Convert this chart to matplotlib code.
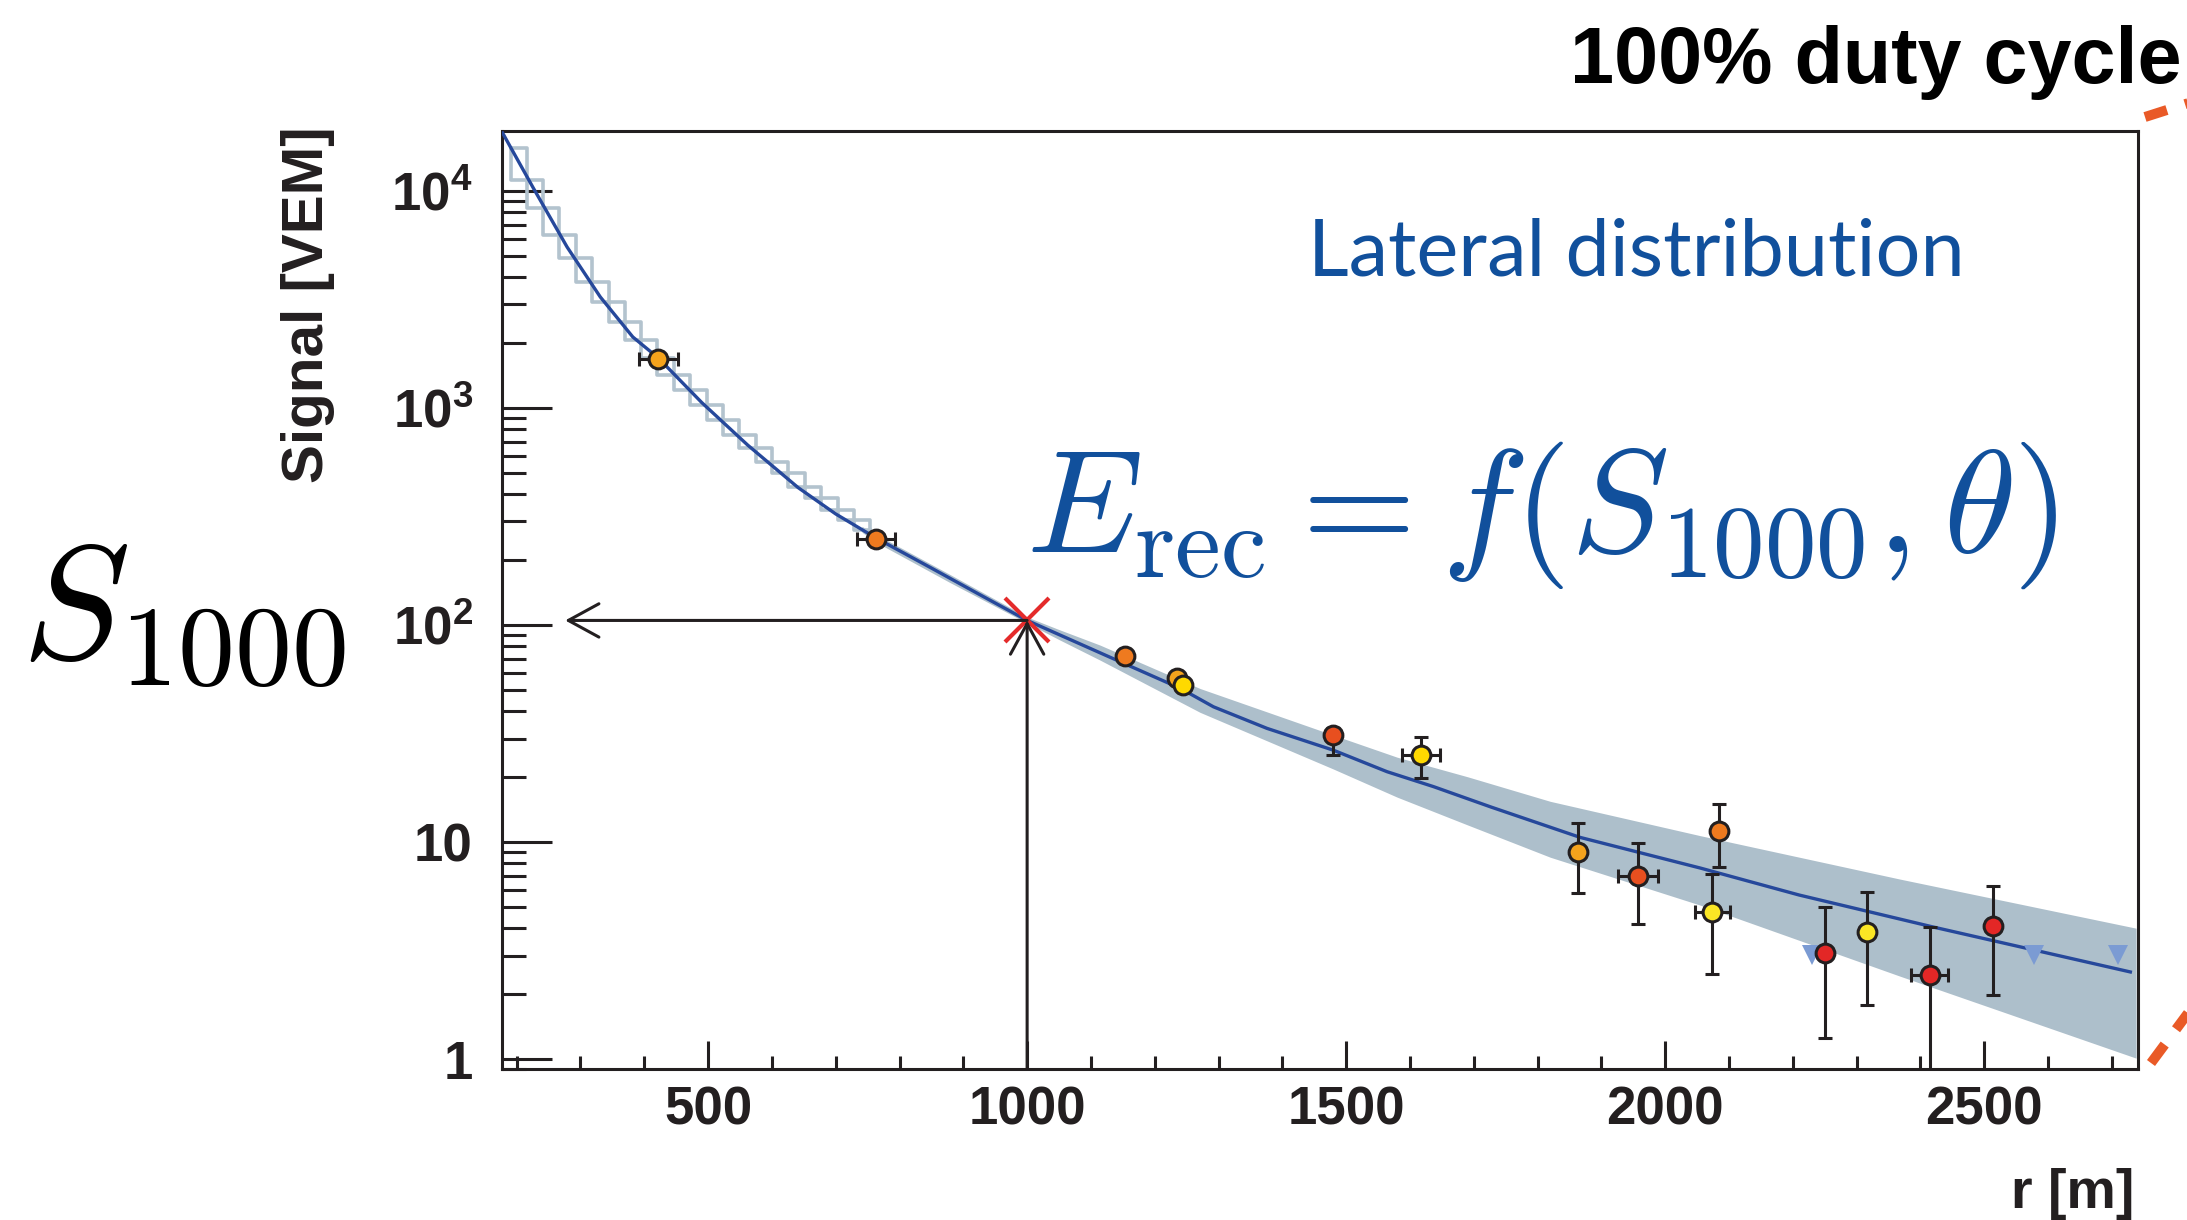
#! /usr/bin/env python3

import numpy as np
import matplotlib
matplotlib.use("Agg")
import matplotlib.pyplot as plt
from matplotlib.lines import Line2D
from matplotlib.ticker import LogLocator, MultipleLocator, NullFormatter

plt.rcParams['font.family'] = ['Liberation Sans', 'DejaVu Sans']
plt.rcParams['font.weight'] = 'bold'
plt.rcParams['mathtext.fontset'] = 'custom'
plt.rcParams['mathtext.rm'] = 'Liberation Sans:bold'
plt.rcParams['mathtext.it'] = 'Liberation Sans:bold'
plt.rcParams['mathtext.bf'] = 'Liberation Sans:bold'

W, H = 2187, 1220

INK = '#231f20'
TEXT_BLUE = '#11509c'
FIT_BLUE = '#26489b'
BAND_COLOR = '#adbfcb'
STEP_COLOR = '#b3c3ce'
TRIANGLE_COLOR = '#7b9bd3'
CROSS_RED = '#e42b2b'
DASH_ORANGE = '#e95a27'
STATION_COLORS = {
	'gold': '#f5a31c',
	'orange': '#ee7a1f',
	'vermilion': '#e84f1f',
	'red': '#e32726',
	'yellow': '#ffd900',
	'lemon': '#fbe625',
}

# fitted lateral distribution function
fit_r = [178, 226, 279, 331, 382, 422, 490, 562, 641, 700, 763, 850, 922, 1000,
	1154, 1240, 1292, 1376, 1480, 1564, 1637, 1727, 1867, 2055, 2210, 2420, 2599, 2729]
fit_s = [18500, 10330, 5520, 3250, 2125, 1700, 1060, 675, 430, 325, 252, 183, 140, 105,
	66.1, 51.1, 42.0, 33.4, 26.5, 21.1, 18.0, 14.5, 10.5, 7.59, 5.70, 4.06, 3.08, 2.52]

# uncertainty band of the fit
band_r = [741, 763, 879, 1000, 1050, 1114, 1271, 1480, 1580, 1690, 1820, 2055, 2368, 2738]
band_hi = [285, 262, 171, 108.9, 95.3, 80.9, 51.0, 31.1, 24.6, 20.0, 15.4, 10.7, 6.75, 4.01]
band_lo = [268, 241, 157, 102.1, 85.7, 69.0, 39.6, 21.7, 16.1, 12.0, 8.51, 5.12, 2.41, 1.01]

# binned band near the core (drawn as a staircase)
step_r = [191, 216, 241, 267, 293, 318, 344, 369, 395, 420, 446, 472, 498, 524, 549,
	575, 600, 626, 652, 677, 703, 728, 754]
step_s = [15740, 11240, 8320, 6270, 4900, 3820, 3090, 2500, 2060, 1694, 1420, 1210, 1032,
	880, 751, 652, 566, 500, 434, 384, 339, 305, 274]

# triggered stations
station_r = [422, 763, 1154, 1235, 1245, 1479, 1617, 1864, 1957, 2085, 2074, 2251, 2316, 2415, 2513]
station_s = [1683, 249, 72.0, 56.8, 52.9, 31.1, 25.2, 8.97, 6.97, 11.3, 4.77, 3.09, 3.86, 2.44, 4.11]
station_err_lo = [0, 0, 0, 0, 0, 5.9, 5.5, 3.17, 2.78, 3.61, 2.31, 1.84, 2.09, 2.0, 2.14]
station_err_hi = [0, 0, 0, 0, 0, 2.5, 5.2, 3.23, 2.89, 3.66, 2.35, 1.91, 2.04, 1.63, 2.16]
station_r_err = [31, 30, 0, 0, 0, 0, 30, 0, 31, 0, 28, 0, 0, 29, 0]
station_kind = ['gold', 'orange', 'orange', 'gold', 'yellow', 'vermilion', 'yellow', 'gold',
	'vermilion', 'orange', 'lemon', 'red', 'lemon', 'red', 'red']

# non-triggered stations
silent_r = [2230, 2578, 2710]
silent_s = [3.02, 3.02, 3.02]

S1000 = 105
R_OPT = 1000
arrow_left_r = 276

x_min, x_max = 177, 2741
y_min, y_max = 0.9, 18900


def fx(px):
	return px / W


def fy(py):
	return 1 - py / H


fig = plt.figure(figsize=(W / 100, H / 100), dpi=100)
ax = fig.add_axes([fx(502), fy(1069), fx(2138) - fx(502), fy(131) - fy(1069)])
ax.set_yscale('log')
ax.set_xlim(x_min, x_max)
ax.set_ylim(y_min, y_max)

ax.fill_between(band_r, band_lo, band_hi, color=BAND_COLOR, lw=0, zorder=1)
ax.step(step_r, step_s, where='post', color=STEP_COLOR, lw=2.6, zorder=2)
ax.step(step_r, step_s, where='pre', color=STEP_COLOR, lw=2.6, zorder=2)
ax.plot(fit_r, fit_s, color=FIT_BLUE, lw=2.4, zorder=3)

ax.plot(silent_r, silent_s, 'v', color=TRIANGLE_COLOR, ms=15, mew=0, zorder=4)

ax.errorbar(station_r, station_s, xerr=station_r_err, yerr=[station_err_lo, station_err_hi],
	fmt='none', ecolor=INK, elinewidth=2.2, capsize=5, capthick=2.2, zorder=4)
for r, s, kind in zip(station_r, station_s, station_kind):
	ax.plot(r, s, 'o', ms=13.5, mfc=STATION_COLORS[kind], mec=INK, mew=2.2, zorder=5)

ax.plot(R_OPT, S1000, 'x', ms=32, mew=3, color=CROSS_RED, zorder=6)
arrow = dict(arrowstyle='->,head_length=1.1,head_width=0.6', lw=2.2, color=INK,
	mutation_scale=20, shrinkA=0, shrinkB=0)
ax.annotate('', xy=(R_OPT, S1000), xytext=(R_OPT, y_min), arrowprops=arrow, zorder=7)
ax.annotate('', xy=(arrow_left_r, S1000), xytext=(R_OPT, S1000), arrowprops=arrow, zorder=7)

ax.set_xticks([500, 1000, 1500, 2000, 2500])
ax.xaxis.set_minor_locator(MultipleLocator(100))
ax.set_yticks([1, 10, 100, 1000, 10000])
ax.set_yticklabels(['1', '10', r'$10^{2}$', r'$10^{3}$', r'$10^{4}$'])
ax.yaxis.set_minor_locator(LogLocator(base=10, subs=np.arange(2, 10), numticks=20))
ax.yaxis.set_minor_formatter(NullFormatter())
ax.set_ylim(y_min, y_max)

ax.tick_params(which='both', direction='in', top=False, right=False, color=INK,
	labelcolor=INK, labelsize=38, width=2.2)
ax.tick_params(axis='y', which='major', length=36, pad=21)
ax.tick_params(axis='y', which='minor', length=17)
ax.tick_params(axis='x', which='major', length=20, pad=12)
ax.tick_params(axis='x', which='minor', length=9.5)
for spine in ax.spines.values():
	spine.set_linewidth(2.2)
	spine.set_color(INK)

fig.text(fx(308), fy(126), 'Signal [VEM]', rotation=90, ha='center', va='top',
	fontsize=42, color=INK)
fig.text(fx(2134), fy(1208), 'r [m]', ha='right', va='baseline', fontsize=40, color=INK)

fig.text(fx(183), fy(657), r'$S_{1000}$', math_fontfamily='cm', fontsize=117,
	ha='center', va='baseline', color='black')
fig.text(fx(1026), fy(552), r'$E_{\mathrm{rec}} = f(S_{1000},\theta)$', math_fontfamily='cm',
	fontsize=106, ha='left', va='baseline', color=TEXT_BLUE)
fig.text(fx(1308), fy(276), 'Lateral distribution', family='Lato', fontweight='normal',
	fontsize=57, ha='left', va='baseline', color=TEXT_BLUE)
fig.text(fx(2182), fy(83), '100% duty cycle', fontsize=57, ha='right', va='baseline',
	color='black')

dash = (0, (2.3, 1.9))
fig.add_artist(Line2D([fx(2145), fx(2200)], [fy(117), fy(99.4)], lw=7.2,
	color=DASH_ORANGE, linestyle=dash, dash_capstyle='butt'))
fig.add_artist(Line2D([fx(2151), fx(2200)], [fy(1063), fy(997)], lw=7.2,
	color=DASH_ORANGE, linestyle=dash, dash_capstyle='butt'))

plt.savefig('out.png', dpi=100)
